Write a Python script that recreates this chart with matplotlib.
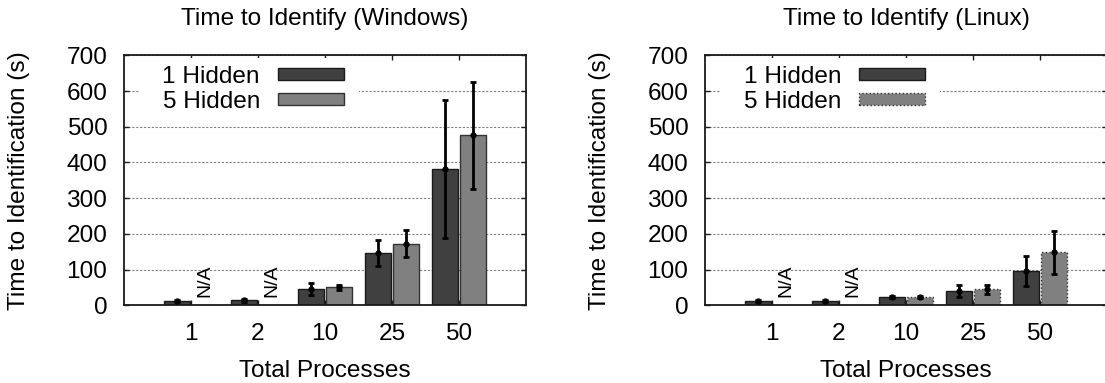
import numpy as np
import matplotlib
matplotlib.use('Agg')
import matplotlib.pyplot as plt
from matplotlib.patches import Rectangle

# ---------------- data ----------------
categories = ['1', '2', '10', '25', '50']
series_labels = ['1 Hidden', '5 Hidden']
titles = ['Time to Identify (Windows)', 'Time to Identify (Linux)']
yticks = [0, 100, 200, 300, 400, 500, 600, 700]

win_1h = [12, 14, 46, 146, 381]
win_1h_err = [3, 5, 16, 37, 193]
win_5h = [np.nan, np.nan, 50, 173, 476]
win_5h_err = [np.nan, np.nan, 7, 38, 150]

lin_1h = [12, 12, 23, 40, 96]
lin_1h_err = [3, 3, 2, 16, 43]
lin_5h = [np.nan, np.nan, 23, 45, 148]
lin_5h_err = [np.nan, np.nan, 2, 12, 61]

# ---------------- style ----------------
plt.rcParams['font.family'] = ['Liberation Sans', 'DejaVu Sans']
FS = 17.6
W, H = 1105, 383
DARK = '#404040'
LIGHT = '#808080'

fig = plt.figure(figsize=(W / 100, H / 100), dpi=100)

ax_l_px = [124, 705]
ax_w_px = 402
ax_top_px, ax_bot_px = 55.3, 305.3
ax_h_px = ax_bot_px - ax_top_px


def draw(ax, v1, e1, v2, e2, dotted, title):
    x = np.arange(len(categories))
    w = 0.39
    off = 0.21
    style1 = dict(facecolor=DARK, edgecolor='#1a1a1a', linewidth=1.0)
    style2 = dict(facecolor=LIGHT, edgecolor='#333333', linewidth=1.0,
                  linestyle=':' if dotted else '-')
    ax.bar(x - off, v1, w, zorder=2, **style1)
    ax.bar(x + off, v2, w, zorder=2, **style2)
    for xs, v, e in ((x - off, v1, e1), (x + off, v2, e2)):
        ax.errorbar(xs, v, yerr=e, fmt='o', ms=3.5, color='black',
                    elinewidth=2.0, capsize=2.2, capthick=2.0, zorder=3)
    for i, val in enumerate(v2):
        if np.isnan(val):
            ax.text(x[i] + off, 22, 'N/A', rotation=90, ha='center',
                    va='bottom', fontsize=14, zorder=4)

    ax.set_xlim(-1, 5)
    ax.set_ylim(0, 700)
    ax.set_xticks(x)
    ax.set_xticklabels(categories)
    ax.set_yticks(yticks)
    ax.tick_params(axis='both', direction='in', top=True, right=True,
                   length=3.6, width=1.0, labelsize=FS, color='#1a1a1a')
    ax.tick_params(axis='x', pad=13)
    ax.tick_params(axis='y', pad=12)
    ax.yaxis.grid(True, linestyle=(0, (2, 1.5)), color='#808080',
                  linewidth=0.8, zorder=0)
    ax.set_axisbelow(True)
    for s in ax.spines.values():
        s.set_linewidth(1.3)
        s.set_color('#1a1a1a')
    ax.set_title(title, fontsize=FS, pad=21.6)

    # legend (white background + entries)
    ax.add_patch(Rectangle((16 / ax_w_px, 0.77), (235 - 16) / ax_w_px, 0.22,
                           transform=ax.transAxes, facecolor='white',
                           edgecolor='none', zorder=1))
    rows_px = [74, 99]
    for (lbl, st), rpx in zip(zip(series_labels, (style1, style2)), rows_px):
        yc = (ax_bot_px - rpx) / ax_h_px
        yb = (ax_bot_px - (rpx + 0.358 * 24.5)) / ax_h_px
        ax.text(136 / ax_w_px, yb, lbl, transform=ax.transAxes, ha='right',
                va='baseline', fontsize=FS, zorder=5)
        ax.add_patch(Rectangle((154 / ax_w_px, yc - 0.025), 66 / ax_w_px, 0.05,
                               transform=ax.transAxes, zorder=5, **st))


data = [(win_1h, win_1h_err, win_5h, win_5h_err, False),
        (lin_1h, lin_1h_err, lin_5h, lin_5h_err, True)]

for k in range(2):
    left = ax_l_px[k]
    ax = fig.add_axes([left / W, (H - ax_bot_px) / H, ax_w_px / W, ax_h_px / H])
    v1, e1, v2, e2, dotted = data[k]
    draw(ax, v1, e1, v2, e2, dotted, titles[k])
    fig.text((left + ax_w_px / 2) / W, (H - 377) / H, 'Total Processes',
             ha='center', va='baseline', fontsize=FS)
    fig.text((left - 105) / W, (H - (ax_top_px + ax_bot_px) / 2) / H,
             'Time to Identification (s)', rotation=90, ha='center',
             va='center', fontsize=FS)

fig.savefig('out.png', dpi=100)
